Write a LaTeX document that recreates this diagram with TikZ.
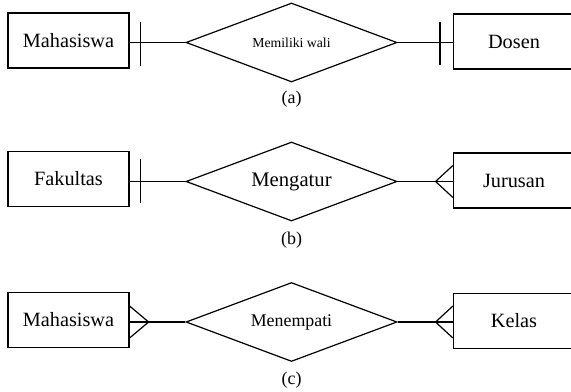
\documentclass[tikz,border=0pt]{standalone}
\usepackage{fontspec}
\setmainfont{Liberation Serif}
\usetikzlibrary{shapes.geometric,positioning}

\begin{document}
\begin{tikzpicture}[x=0.75pt,y=-0.75pt,line width=0.9pt,
  entity/.style={draw, rectangle, minimum width=90.75pt, minimum height=41.25pt, inner sep=0pt, font=\fontsize{15.2}{18}\selectfont},
  relation/.style={draw, diamond, aspect=2.67, minimum width=158.25pt, minimum height=59.25pt, inner sep=0pt},
  caption/.style={inner sep=0pt, font=\fontsize{13.5}{16}\selectfont}]
\clip (0,0) rectangle (571,392);

% (a) satu ke satu
\node (mhsA) [entity] at (68.5,40.5) {Mahasiswa};
\node (relA) [relation, font=\fontsize{10.3}{12}\selectfont] at (291.5,42.5) {Memiliki wali};
\node (dosen) [entity] at (514,41.5) {Dosen};
\node (capA) [caption, below=6pt of relA] {(a)};

\coordinate (a1) at (mhsA.east |- relA.west);
\coordinate (a2) at (dosen.west |- relA.east);
\draw (a1) -- (relA.west);
\draw (relA.east) -- (a2);
\draw ([xshift=8.25pt,yshift=15pt]a1) -- ([xshift=8.25pt,yshift=-18pt]a1);
\draw ([xshift=-9.75pt,yshift=15pt]a2) -- ([xshift=-9.75pt,yshift=-17pt]a2);

% (b) satu ke banyak
\node (fak) [entity] at (68.5,179) {Fakultas};
\node (relB) [relation, font=\fontsize{15.5}{18}\selectfont] at (291.5,181.5) {Mengatur};
\node (jur) [entity] at (514,180.5) {Jurusan};
\node (capB) [caption, below=7.5pt of relB] {(b)};

\coordinate (b1) at (fak.east |- relB.west);
\coordinate (b2) at (jur.west |- relB.east);
\draw (b1) -- (relB.west);
\draw (relB.east) -- (b2);
\draw ([xshift=8.25pt,yshift=16.5pt]b1) -- ([xshift=8.25pt,yshift=-16.5pt]b1);
\draw ([yshift=12pt]b2) -- ([xshift=-13pt]b2) -- ([yshift=-12pt]b2);

% (c) banyak ke banyak
\node (mhsC) [entity] at (68.5,320) {Mahasiswa};
\node (relC) [relation, font=\fontsize{13.4}{16}\selectfont] at (291.5,322) {Menempati};
\node (kelas) [entity] at (514,321) {Kelas};
\node (capC) [caption, below=7pt of relC] {(c)};

\coordinate (c1) at (mhsC.east |- relC.west);
\coordinate (c2) at (kelas.west |- relC.east);
\draw (c1) -- (relC.west);
\draw (relC.east) -- (c2);
\draw ([yshift=12pt]c1) -- ([xshift=14.25pt]c1) -- ([yshift=-12pt]c1);
\draw ([yshift=12pt]c2) -- ([xshift=-13pt]c2) -- ([yshift=-12pt]c2);
\end{tikzpicture}
\end{document}
